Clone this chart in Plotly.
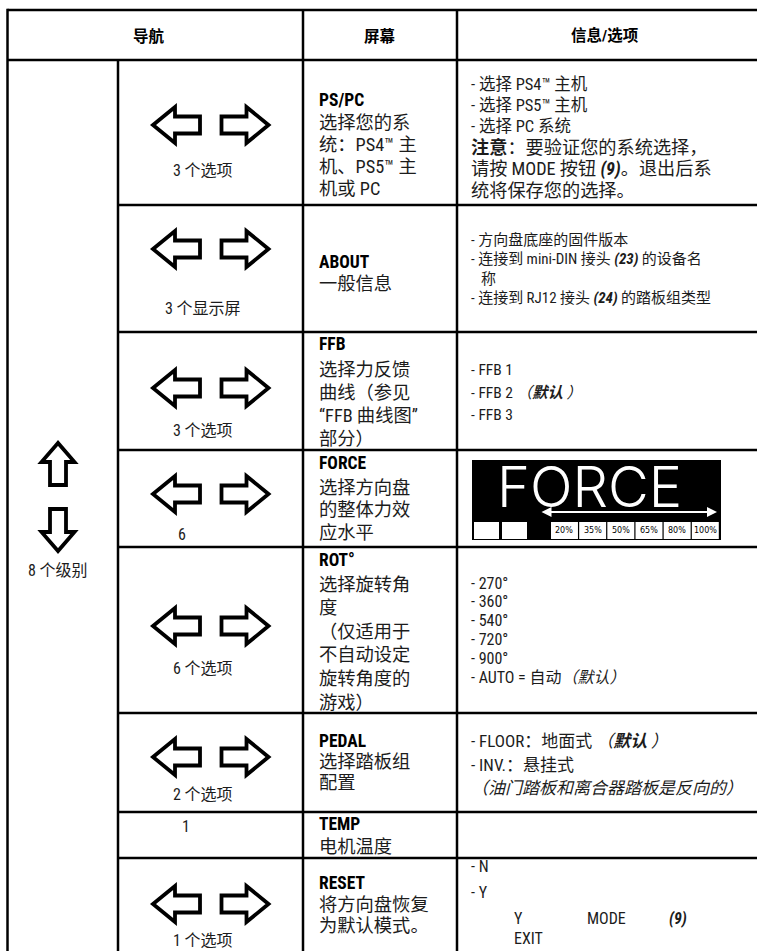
import plotly.graph_objects as go

# ---------------- data ----------------
headers = ["导航", "屏幕", "信息/选项"]
nav_levels = "8 个级别"
screens = ["PS/PC", "ABOUT", "FFB", "FORCE", "ROT°", "PEDAL", "TEMP", "RESET"]
screen_desc = [
    ["选择您的系", "统：PS4™ 主", "机、PS5™ 主", "机或 PC"],
    ["一般信息"],
    ["选择力反馈", "曲线（参见", "“FFB 曲线图”", "部分）"],
    ["选择方向盘", "的整体力效", "应水平"],
    ["选择旋转角", "度", "（仅适用于", "不自动设定", "旋转角度的", "游戏）"],
    ["选择踏板组", "配置"],
    ["电机温度"],
    ["将方向盘恢复", "为默认模式。"],
]
nav_counts = ["3 个选项", "3 个显示屏", "3 个选项", "6", "6 个选项", "2 个选项", "1", "1 个选项"]
nav_has_arrows = [True, True, True, True, True, True, False, True]
info_lines = [
    ["- 选择 PS4™ 主机", "- 选择 PS5™ 主机", "- 选择 PC 系统",
     "<b>注意</b>：要验证您的系统选择，", "请按 MODE 按钮 <b><i>(9)</i></b>。退出后系", "统将保存您的选择。"],
    ["- 方向盘底座的固件版本", "- 连接到 mini-DIN 接头 <b><i>(23)</i></b> 的设备名", "称",
     "- 连接到 RJ12 接头 <b><i>(24)</i></b> 的踏板组类型"],
    ["- FFB 1", "- FFB 2 <i>（<b>默认</b> ）</i>", "- FFB 3"],
    [],
    ["- 270°", "- 360°", "- 540°", "- 720°", "- 900°", "- AUTO = 自动<i>（默认）</i>"],
    ["- FLOOR：地面式 <i>（<b>默认</b> ）</i>", "- INV.：悬挂式", "<i>（油门踏板和离合器踏板是反向的）</i>"],
    [],
    ["- N", "- Y"],
]
reset_confirm = ["Y", "MODE", "<b><i>(9)</i></b>"]
reset_exit = "EXIT"
force_title = "FORCE"
force_levels = ["20%", "35%", "50%", "65%", "80%", "100%"]

# ---------------- layout / style ----------------
W, H = 757, 951
LAT = "Liberation Sans Narrow, Roboto Condensed, Roboto, Noto Sans CJK SC"
CJK = "Liberation Sans Narrow, Roboto Condensed, Roboto, Noto Sans CJK SC"
INK = "#1c1c1c"
LW = 2.5

col_x = [7.5, 118, 303, 457, 758]
table_top, header_bottom = 10, 60
row_bottoms = [205, 332, 450, 547, 713, 812, 858]

screen_x = 317
screen_label_y = [100, 262, 344, 463, 560, 741, 824, 883]
screen_first_y = [122, 283, 369, 487, 584, 761, 846, 904]
screen_step = [22, 22, 23, 22.5, 23.6, 21, 22, 21]
screen_size = 18.3

arrow_y = [125, 249, 388, 494, 626, 757, None, 904]
count_pos = [(203, 170), (203, 308), (203, 430), (176, 534), (203, 668), (203, 794), (180, 826), (203, 940)]

info_x = 469
info_first_y = [84, 240, 370, None, 583, 741, None, 866]
info_step = [21.2, 19.3, 22.5, None, 18.8, 23.5, None, 26]
info_size = [16.5, 15, 15.5, None, 16, 17, None, 16]

fig = go.Figure()
fig.add_trace(go.Scatter(x=[0], y=[0], mode="markers", marker=dict(opacity=0), hoverinfo="skip"))

shapes = []
annotations = []


def line(x0, y0, x1, y1, w=LW):
    shapes.append(dict(type="line", xref="x", yref="y", x0=x0, y0=y0, x1=x1, y1=y1,
                       line=dict(color="black", width=w)))


def text(x, y, s, size, family=CJK, anchor="left", color=INK, vanchor="middle", weight=None):
    f = dict(family=family, size=size, color=color)
    if weight is not None:
        f["weight"] = weight
    annotations.append(dict(x=x, y=y, xref="x", yref="y", text=s, showarrow=False,
                            xanchor=anchor, yanchor=vanchor, font=f))


def arrow_path(cx, cy, d, L, Hh, h, S, vertical=False):
    tip = d * L / 2
    base = tip - d * h
    tail = -d * L / 2
    pts = [(tip, 0), (base, -Hh / 2), (base, -S / 2), (tail, -S / 2),
           (tail, S / 2), (base, S / 2), (base, Hh / 2)]
    if vertical:
        pts = [(cx + b, cy + a) for a, b in pts]
    else:
        pts = [(cx + a, cy + b) for a, b in pts]
    return "M " + " L ".join(f"{x:.1f},{y:.1f}" for x, y in pts) + " Z"


def arrow(cx, cy, d, vertical=False):
    if vertical:
        p = arrow_path(cx, cy, d, 42, 33, 19, 16, vertical=True)
    else:
        p = arrow_path(cx, cy, d, 47, 36, 22, 17)
    shapes.append(dict(type="path", xref="x", yref="y", path=p, fillcolor="white",
                       line=dict(color="black", width=3.8)))


# grid
line(col_x[0], table_top, W + 2, table_top)
line(col_x[0], header_bottom, W + 2, header_bottom)
for yb in row_bottoms:
    line(col_x[1], yb, W + 2, yb)
line(col_x[0], table_top - 1.2, col_x[0], H + 2)
line(col_x[1], header_bottom, col_x[1], H + 2)
line(col_x[2], table_top, col_x[2], H + 2)
line(col_x[3], table_top, col_x[3], H + 2)

# headers
hy = (table_top + header_bottom) / 2
HF = "Noto Sans CJK SC"
text(149, hy, f"<b>{headers[0]}</b>", 15.5, anchor="center", family=HF, color="black")
text((col_x[2] + col_x[3]) / 2, hy, f"<b>{headers[1]}</b>", 15.5, anchor="center", family=HF, color="black")
text(605, hy, f"<b>{headers[2]}</b>", 15.5, anchor="center", family=CJK, color="black")

# first column (levels)
arrow(58, 464, -1, vertical=True)
arrow(58, 530, 1, vertical=True)
text(58, 570, nav_levels, 16, anchor="center")

for i, name in enumerate(screens):
    # navigation column
    if nav_has_arrows[i]:
        arrow(176.5, arrow_y[i], -1)
        arrow(245, arrow_y[i], 1)
    cx, cy = count_pos[i]
    text(cx, cy, nav_counts[i], 16, anchor="center" if len(nav_counts[i]) > 1 else "left")
    # screen column
    text(screen_x, screen_label_y[i], f"<b>{name}</b>", 17.5, family=LAT, color="black")
    for j, s in enumerate(screen_desc[i]):
        text(screen_x, screen_first_y[i] + j * screen_step[i], s, screen_size)
    # info column
    if info_lines[i]:
        for j, s in enumerate(info_lines[i]):
            x = info_x + (10 if s == "称" else 0)
            size = info_size[i]
            if i == 0 and j >= 3:
                size = 18.2
            text(x, info_first_y[i] + j * info_step[i], s, size)

# reset confirmation line
ry = info_first_y[7] + 2 * info_step[7]
for s, x in zip(reset_confirm, [512, 585, 667]):
    text(x, ry, s, 16, family=LAT)
text(512, ry + 20, reset_exit, 16, family=LAT)

# FORCE screen picture
bx0, bx1, by0, by1 = 472, 721, 460, 540
shapes.append(dict(type="rect", xref="x", yref="y", x0=bx0, x1=bx1, y0=by0, y1=by1,
                   fillcolor="black", line=dict(width=0)))
text(589, 487, force_title, 56, family="Inter, DejaVu Sans Mono", anchor="center", color="white", weight=300)
annotations.append(dict(x=717, y=512, ax=540, ay=512, xref="x", yref="y", axref="x", ayref="y",
                        text="", showarrow=True, arrowhead=2, startarrowhead=2, arrowside="end+start",
                        arrowsize=1, startarrowsize=1, arrowwidth=2, arrowcolor="white"))
for k in range(2):
    shapes.append(dict(type="rect", xref="x", yref="y", x0=474 + k * 28, x1=499 + k * 28,
                       y0=522, y1=539, fillcolor="white", line=dict(width=0)))
cw = (720 - 551) / len(force_levels)
for k, lv in enumerate(force_levels):
    x0 = 551 + k * cw
    shapes.append(dict(type="rect", xref="x", yref="y", x0=x0, x1=x0 + cw - 1.2,
                       y0=522, y1=539, fillcolor="white", line=dict(width=0)))
    text(x0 + cw / 2 - 0.6, 530.5, lv, 8, family="DejaVu Sans", anchor="center", color="black")

fig.update_layout(
    width=W, height=H, margin=dict(l=0, r=0, t=0, b=0),
    paper_bgcolor="white", plot_bgcolor="white", showlegend=False,
    xaxis=dict(range=[0, W], visible=False, fixedrange=True),
    yaxis=dict(range=[H, 0], visible=False, fixedrange=True),
    shapes=shapes, annotations=annotations,
)
fig.write_html("out.html", config={"displayModeBar": False},
               post_script="document.body.style.margin='0px';")
